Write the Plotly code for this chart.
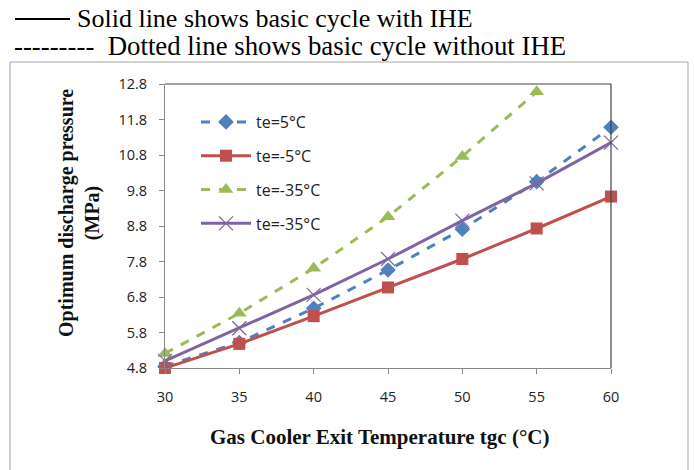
import plotly.graph_objects as go

tgc = [30, 35, 40, 45, 50, 55, 60]
te5_no_ihe = [4.85, 5.52, 6.48, 7.56, 8.71, 10.05, 11.58]
te_m5_ihe = [4.80, 5.48, 6.26, 7.07, 7.87, 8.73, 9.63]
tgc_green = [30, 35, 40, 45, 50, 55]
te_m35_no_ihe = [5.21, 6.34, 7.61, 9.06, 10.76, 12.58]
te_m35_ihe = [5.00, 5.92, 6.86, 7.87, 8.95, 10.00, 11.15]
y_ticks = [4.8, 5.8, 6.8, 7.8, 8.8, 9.8, 10.8, 11.8, 12.8]
x_ticks = [30, 35, 40, 45, 50, 55, 60]

W, H = 694, 470
L, R, T, B = 165, 83, 84, 102
PW, PH = W - L - R, H - T - B

def px(xp):
    return (xp - L) / PW

def py(yp):
    return (H - B - yp) / PH

fig = go.Figure()
fig.add_trace(go.Scatter(x=tgc, y=te5_no_ihe, name="te=5°C", mode="lines+markers",
                         line=dict(color="#4F81BD", width=3, dash="dash"),
                         marker=dict(symbol="diamond", size=12, color="#4F81BD"),
                         legendgroup="a", cliponaxis=False))
fig.add_trace(go.Scatter(x=tgc, y=te_m5_ihe, name="te=-5°C", mode="lines+markers",
                         line=dict(color="#C0504D", width=3),
                         marker=dict(symbol="square", size=12, color="#C0504D"),
                         legendgroup="b", cliponaxis=False))
fig.add_trace(go.Scatter(x=tgc_green, y=te_m35_no_ihe, name="te=-35°C", mode="lines+markers",
                         line=dict(color="#9BBB59", width=3, dash="dash"),
                         marker=dict(symbol="triangle-up", size=13, color="#9BBB59"),
                         legendgroup="c", cliponaxis=False))
fig.add_trace(go.Scatter(x=tgc, y=te_m35_ihe, name="te=-35°C", mode="lines+markers",
                         line=dict(color="#8064A2", width=3),
                         marker=dict(symbol="x-thin-open", size=14,
                                     line=dict(color="#8064A2", width=1.2)),
                         legendgroup="d", cliponaxis=False))

tick_font = dict(family="Open Sans, Liberation Sans, sans-serif", size=14.5, color="#222")
title_font = dict(family="Liberation Serif, Times New Roman, serif", size=21, color="#111")
ytitle_font = dict(family="Liberation Serif, Times New Roman, serif", size=20, color="#111")

fig.update_xaxes(range=[30, 60], tickvals=x_ticks, ticks="outside", ticklen=5,
                 tickcolor="#888", showline=True, linecolor="#888", linewidth=1,
                 showgrid=False, zeroline=False, tickfont=tick_font,
                 ticklabelstandoff=11)
fig.update_yaxes(range=[4.8, 12.8], tickvals=y_ticks, ticktext=[f"{v:.1f}" for v in y_ticks],
                 ticks="outside", ticklen=5, tickcolor="#888", showline=True,
                 linecolor="#888", linewidth=1, showgrid=False, zeroline=False,
                 tickfont=tick_font, ticklabelstandoff=9)

shapes = [
    dict(type="rect", xref="paper", yref="paper", x0=px(10), x1=px(688), y0=py(520), y1=py(62),
         line=dict(color="#a6a6a6", width=1), layer="below"),
    dict(type="line", xref="paper", yref="paper", x0=0, x1=1, y0=1, y1=1,
         line=dict(color="#444", width=1.2)),
    dict(type="line", xref="paper", yref="paper", x0=1, x1=1, y0=0, y1=1,
         line=dict(color="#444", width=1.2)),
    dict(type="line", xref="paper", yref="paper", x0=px(15), x1=px(70), y0=py(19), y1=py(19),
         line=dict(color="black", width=2)),
]

header_font = dict(family="Liberation Serif, Times New Roman, serif", size=26, color="black")
header_font2 = dict(family="Liberation Serif, Times New Roman, serif", size=26.8, color="black")
annotations = [
    dict(text="Solid line shows basic cycle with IHE", xref="paper", yref="paper",
         x=px(75), y=py(18), xanchor="left", yanchor="middle", showarrow=False, font=header_font),
    dict(text="---------  Dotted line shows basic cycle without IHE", xref="paper", yref="paper",
         x=px(12), y=py(46), xanchor="left", yanchor="middle", showarrow=False, font=header_font2),
    dict(text="<b>Gas Cooler Exit Temperature tgc (°C)</b>", xref="paper", yref="paper",
         x=px(380), y=py(437), xanchor="center", yanchor="middle", showarrow=False, font=title_font),
    dict(text="<b>Optimum discharge pressure<br>(MPa)</b>", xref="paper", yref="paper",
         x=px(79), y=py(213), xanchor="center", yanchor="middle", showarrow=False,
         textangle=-90, font=ytitle_font),
]

fig.update_layout(
    width=W, height=H,
    margin=dict(l=L, r=R, t=T, b=B),
    paper_bgcolor="white", plot_bgcolor="white",
    showlegend=True,
    legend=dict(x=px(196), y=py(105), xanchor="left", yanchor="top",
                bgcolor="rgba(0,0,0,0)", font=dict(family="Open Sans, Liberation Sans, sans-serif",
                                                  size=16, color="#222"),
                tracegroupgap=10, itemwidth=50),
    shapes=shapes, annotations=annotations,
)

fig.write_html("out.html")
